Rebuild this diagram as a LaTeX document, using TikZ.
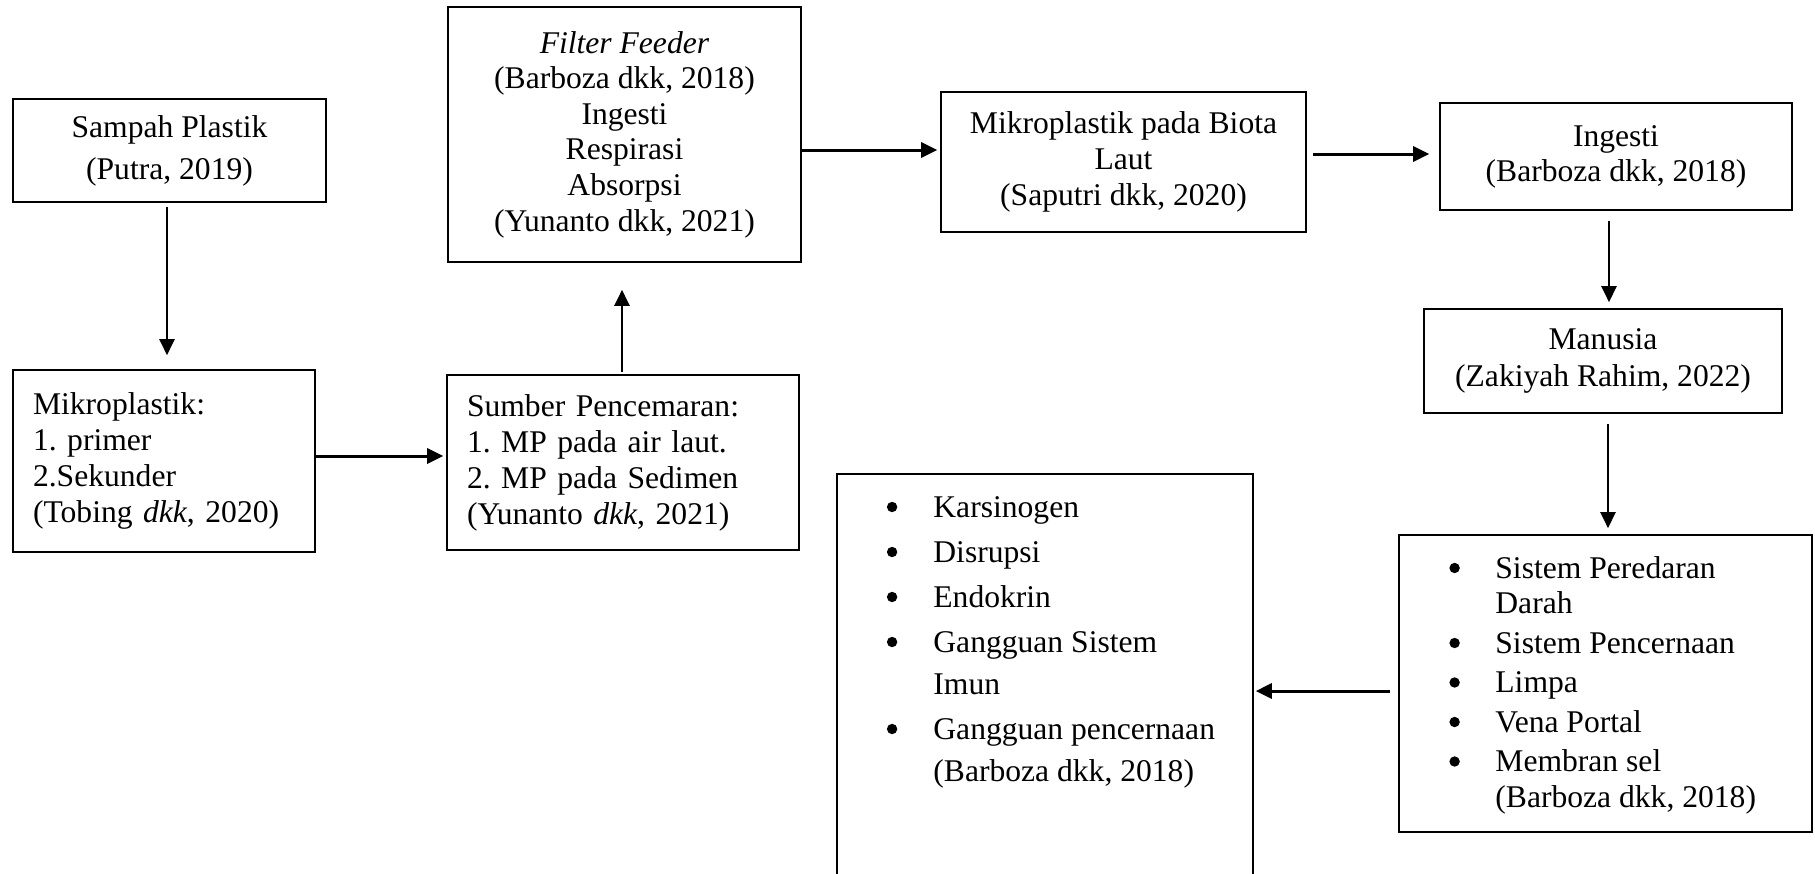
\documentclass[tikz,border=0pt]{standalone}
\usepackage{fontspec}
\setmainfont{Liberation Serif}
\usetikzlibrary{arrows.meta}
\newcommand{\blt}[1]{\makebox[#1][l]{\tikz[baseline=-5.2pt]\fill[black] (0pt,0pt) circle[radius=2.6pt];}}
\begin{document}
\frenchspacing
\begin{tikzpicture}[x=0.5pt,y=-0.5pt,
  box/.style={draw, line width=0.8pt, inner sep=0pt, align=center,
    font=\fontsize{15.8pt}{18pt}\selectfont},
  harr/.style={line width=1.5pt, -{Triangle[length=8pt,width=7.5pt]}},
  varr/.style={line width=1.1pt, -{Triangle[length=8pt,width=7.5pt]}},
  listtext/.style={inner sep=0pt, align=left, anchor=north west}
]
\fill[white] (0,0) rectangle (1815,873);
\useasboundingbox (0,0) rectangle (1815,873);
\begin{scope}
\clip (0,0) rectangle (1815,873);
\node[box, minimum width=156.5pt, minimum height=51.5pt,
  font=\fontsize{15.8pt}{21pt}\selectfont] (sampah) at (169.5,150.5)
  {Sampah Plastik\\(Putra, 2019)};
\node[box, align=left, text width=131pt, inner xsep=10pt, minimum height=91pt] (mikro) at (164,461)
  {Mikroplastik:\\1. primer\\2.Sekunder\\(Tobing \textit{dkk}, 2020)};
\node[box, align=left, text width=156pt, inner xsep=10pt, minimum height=87.5pt] (sumber) at (623,462.5)
  {Sumber Pencemaran:\\1. MP pada air laut.\\2. MP pada Sedimen\\(Yunanto \textit{dkk}, 2021)};
\node[box, minimum width=176.5pt, minimum height=127.5pt,
  font=\fontsize{15.8pt}{17.8pt}\selectfont] (filter) at (624.5,134.5)
  {\textit{Filter Feeder}\\(Barboza dkk, 2018)\\Ingesti\\Respirasi\\Absorpsi\\(Yunanto dkk, 2021)};
\node[box, minimum width=182.5pt, minimum height=70pt] (biota) at (1123.5,162)
  {Mikroplastik pada Biota\\Laut\\(Saputri dkk, 2020)};
\node[box, minimum width=176pt, minimum height=53.5pt,
  font=\fontsize{15.8pt}{17.5pt}\selectfont] (ingesti) at (1616,156.5)
  {Ingesti\\(Barboza dkk, 2018)};
\node[box, minimum width=179pt, minimum height=52pt,
  font=\fontsize{15.8pt}{18.5pt}\selectfont] (manusia) at (1603,361)
  {Manusia\\(Zakiyah Rahim, 2022)};
\node[box, minimum width=206.5pt, minimum height=148.5pt] (organ) at (1605.5,683.5) {};
\node[box, minimum width=208pt, minimum height=208pt] (effect) at (1045,682) {};
\node[listtext, font=\fontsize{15.8pt}{17.75pt}\selectfont] (organlist) at (1449,553.15)
  {\strut\blt{23pt}Sistem Peredaran\\
   \hspace*{23pt}Darah\\[2pt]
   \blt{23pt}Sistem Pencernaan\\[2pt]
   \blt{23pt}Limpa\\[2pt]
   \blt{23pt}Vena Portal\\[2pt]
   \blt{23pt}Membran sel\\
   \hspace*{23pt}(Barboza dkk, 2018)};
\node[listtext, font=\fontsize{15.8pt}{21pt}\selectfont] (effectlist) at (886.5,487.6)
  {\strut\blt{23.25pt}Karsinogen\\[1.5pt]
   \blt{23.25pt}Disrupsi\\[1.5pt]
   \blt{23.25pt}Endokrin\\[1.5pt]
   \blt{23.25pt}Gangguan Sistem\\
   \hspace*{23.25pt}Imun\\[1.5pt]
   \blt{23.25pt}Gangguan pencernaan\\
   \hspace*{23.25pt}(Barboza dkk, 2018)};
\end{scope}
% connectors
\draw[varr, shorten <=2pt, shorten >=7pt] ([xshift=-1.25pt]sampah.south) -- ([xshift=1.5pt]mikro.north);
\draw[harr, shorten >=1.5pt] ([yshift=2.5pt]mikro.east) -- ([yshift=3.25pt]sumber.west);
\draw[varr, shorten <=1pt, shorten >=13.5pt] ([xshift=-0.5pt]sumber.north) -- ([xshift=-1.25pt]filter.south);
\draw[harr, shorten >=1.5pt] ([yshift=-7.75pt]filter.east) -- ([yshift=6pt]biota.west);
\draw[harr, shorten <=3pt, shorten >=5pt] ([yshift=4pt]biota.east) -- ([yshift=1.25pt]ingesti.west);
\draw[varr, shorten <=5pt, shorten >=3pt] ([xshift=-3.5pt]ingesti.south) -- ([xshift=3pt]manusia.north);
\draw[varr, shorten <=5pt, shorten >=3pt] ([xshift=2.5pt]manusia.south) -- ([xshift=1.25pt]organ.north);
\draw[harr, shorten <=4pt, shorten >=1pt] ([yshift=-3.75pt]organ.west) -- ([yshift=-4.5pt]effect.east);
\end{tikzpicture}
\end{document}
